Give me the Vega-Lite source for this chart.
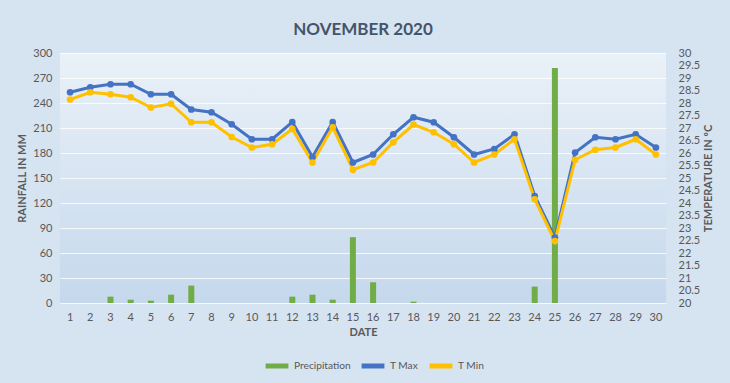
{
  "$schema": "https://vega.github.io/schema/vega-lite/v6.json",
  "width": 606,
  "height": 250,
  "autosize": {"type": "none"},
  "padding": {"left": 60, "top": 53, "right": 64, "bottom": 80},
  "background": "#d6e3f1",
  "config": {
    "font": "Lato",
    "view": {"stroke": null, "fill": {"gradient": "linear", "x1": 0, "y1": 0, "x2": 0, "y2": 1, "stops": [{"offset": 0, "color": "#eaf1f8"}, {"offset": 1, "color": "#c5d8ec"}]}},
    "axis": {"domain": false, "ticks": false, "labelColor": "#595959", "labelFontSize": 11, "titleColor": "#595959", "titleFontSize": 11, "titleFontWeight": "bold", "grid": false},
    "legend": {"orient": "none", "legendX": 203, "legendY": 299, "direction": "horizontal", "title": null, "labelColor": "#595959", "labelFontSize": 10.2, "labelOffset": 3, "symbolType": "stroke", "symbolStrokeWidth": 5, "symbolSize": 520, "columnPadding": 0}
  },
  "title": {"text": "NOVEMBER 2020", "fontSize": 17, "fontWeight": "bold", "color": "#44546a", "offset": 8, "font": "Lato"},
  "data": {"values": [
    {"day": 1, "precip": 0, "T Max": 28.43, "T Min": 28.14},
    {"day": 2, "precip": 0, "T Max": 28.63, "T Min": 28.43},
    {"day": 3, "precip": 7.6, "T Max": 28.75, "T Min": 28.35},
    {"day": 4, "precip": 4, "T Max": 28.75, "T Min": 28.23},
    {"day": 5, "precip": 2.8, "T Max": 28.35, "T Min": 27.82},
    {"day": 6, "precip": 10, "T Max": 28.35, "T Min": 27.97},
    {"day": 7, "precip": 20.9, "T Max": 27.74, "T Min": 27.23},
    {"day": 8, "precip": 0, "T Max": 27.63, "T Min": 27.23},
    {"day": 9, "precip": 0, "T Max": 27.15, "T Min": 26.64},
    {"day": 10, "precip": 0, "T Max": 26.55, "T Min": 26.22},
    {"day": 11, "precip": 0, "T Max": 26.55, "T Min": 26.35},
    {"day": 12, "precip": 7.6, "T Max": 27.24, "T Min": 26.96},
    {"day": 13, "precip": 10, "T Max": 25.84, "T Min": 25.62},
    {"day": 14, "precip": 4, "T Max": 27.24, "T Min": 27.03},
    {"day": 15, "precip": 79, "T Max": 25.62, "T Min": 25.33},
    {"day": 16, "precip": 24.9, "T Max": 25.94, "T Min": 25.62},
    {"day": 17, "precip": 0, "T Max": 26.75, "T Min": 26.43},
    {"day": 18, "precip": 1.6, "T Max": 27.43, "T Min": 27.14},
    {"day": 19, "precip": 0, "T Max": 27.23, "T Min": 26.83},
    {"day": 20, "precip": 0, "T Max": 26.63, "T Min": 26.35},
    {"day": 21, "precip": 0, "T Max": 25.94, "T Min": 25.62},
    {"day": 22, "precip": 0, "T Max": 26.16, "T Min": 25.94},
    {"day": 23, "precip": 0, "T Max": 26.75, "T Min": 26.55},
    {"day": 24, "precip": 19.7, "T Max": 24.28, "T Min": 24.15},
    {"day": 25, "precip": 282, "T Max": 22.62, "T Min": 22.48},
    {"day": 26, "precip": 0, "T Max": 26.02, "T Min": 25.73},
    {"day": 27, "precip": 0, "T Max": 26.63, "T Min": 26.13},
    {"day": 28, "precip": 0, "T Max": 26.55, "T Min": 26.22},
    {"day": 29, "precip": 0, "T Max": 26.75, "T Min": 26.55},
    {"day": 30, "precip": 0, "T Max": 26.22, "T Min": 25.94}
  ]},
  "encoding": {
    "x": {"field": "day", "type": "ordinal", "title": "DATE", "scale": {"paddingInner": 0, "paddingOuter": 0}, "axis": {"labelAngle": 0, "labelPadding": 8, "titlePadding": 4}}
  },
  "layer": [
    {
      "mark": {"type": "bar", "width": 6},
      "encoding": {
        "y": {"field": "precip", "type": "quantitative", "title": "RAINFALL IN MM", "scale": {"domain": [0, 300]}, "axis": {"values": [0, 30, 60, 90, 120, 150, 180, 210, 240, 270, 300], "grid": true, "gridColor": "#ffffff", "gridOpacity": 0.8, "labelPadding": 8, "titlePadding": 5}},
        "color": {"datum": "Precipitation", "type": "nominal", "scale": {"domain": ["Precipitation", "T Max", "T Min"], "range": ["#70ad47", "#4472c4", "#ffc000"]}}
      }
    },
    {
      "transform": [{"fold": ["T Max", "T Min"], "as": ["series", "temp"]}],
      "mark": {"type": "line", "strokeWidth": 3, "point": {"filled": true, "size": 45}},
      "encoding": {
        "y": {"field": "temp", "type": "quantitative", "title": "TEMPERATURE IN ºC", "scale": {"domain": [20, 30]}, "axis": {"orient": "right", "values": [20, 20.5, 21, 21.5, 22, 22.5, 23, 23.5, 24, 24.5, 25, 25.5, 26, 26.5, 27, 27.5, 28, 28.5, 29, 29.5, 30], "format": "~g", "labelPadding": 12, "titlePadding": 14, "titleAngle": 270}},
        "color": {"field": "series", "type": "nominal"}
      }
    }
  ],
  "resolve": {"scale": {"y": "independent"}}
}
